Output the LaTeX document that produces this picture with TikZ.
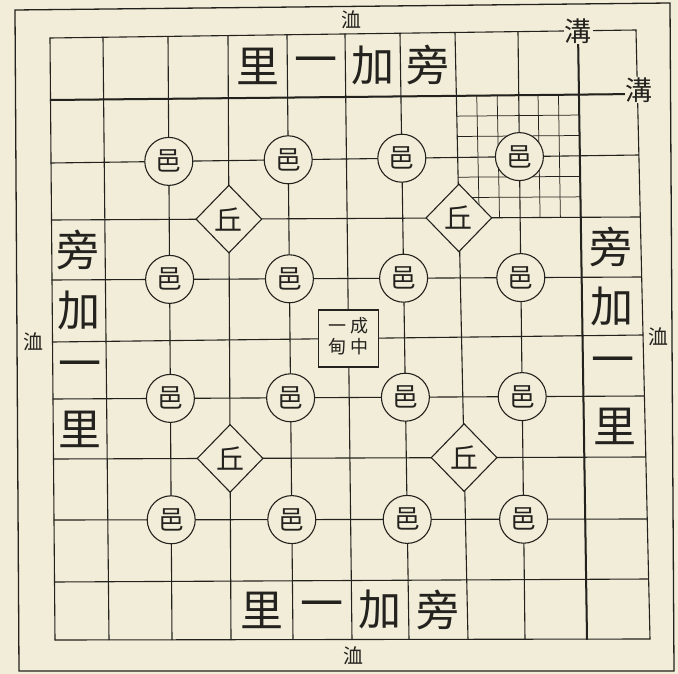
\documentclass[tikz,border=0pt]{standalone}
\usepackage{fontspec}
\newfontfamily\cjk{Noto Sans CJK TC}
\usetikzlibrary{shapes.geometric,calc}
\definecolor{paper}{RGB}{242,237,216}
\definecolor{ink}{RGB}{36,34,30}
\begin{document}
\begin{tikzpicture}[x=1pt,y=-1pt,line cap=round,
  gridline/.style={draw=ink,line width=1.1pt},
  ditchline/.style={draw=ink,line width=2pt},
  fineline/.style={draw=ink,line width=0.75pt},
  frameline/.style={draw=ink,line width=1.3pt},
  town/.style={circle,draw=ink,line width=1.1pt,fill=paper,minimum size=48pt,inner sep=0pt,text=ink,font=\cjk\fontsize{26}{26}\selectfont},
  hill/.style={diamond,draw=ink,line width=1.1pt,fill=paper,minimum width=66pt,minimum height=68pt,inner sep=0pt,text=ink,font=\cjk\fontsize{28}{28}\selectfont},
  centrebox/.style={rectangle,draw=ink,line width=1.1pt,fill=paper,minimum width=60pt,minimum height=57pt,inner sep=0pt,text=ink,font=\cjk\fontsize{18}{21}\selectfont},
  bandtext/.style={inner sep=0pt,text=ink,font=\cjk\fontsize{43}{43}\selectfont},
  ditchlabel/.style={fill=paper,inner sep=1pt,text=ink,font=\cjk\fontsize{27}{27}\selectfont},
  moatlabel/.style={inner sep=0pt,text=ink,font=\cjk\fontsize{20}{20}\selectfont}
]
\fill[paper] (0,0) rectangle (678,674);
\useasboundingbox (0,0) rectangle (678,674);

% grid coordinates (slightly skewed, as in the print)
\def\XT{{50,103,168,228,287,345,400,455,518,578,636}}
\def\XB{{55,109,172,231,293,352,409,468,525,587,650}}
\def\YL{{38,100,163,220,280,342,399,459,520,582,640}}
\def\YR{{30,94,155,217,277,335,396,457,519,579,639}}
\foreach \i in {0,...,10}{
  \foreach \j in {0,...,10}{
    \pgfmathsetmacro\gx{\XT[\i]+(\XB[\i]-\XT[\i])*\j/10}
    \pgfmathsetmacro\gy{\YL[\j]+(\YR[\j]-\YL[\j])*\i/10}
    \coordinate (g-\i-\j) at (\gx,\gy);
  }
}

% outer frame
\coordinate (f1) at (15,10);
\coordinate (f2) at (670,3);
\coordinate (f3) at (674,671);
\coordinate (f4) at (19,671);
\draw[frameline] (f1) -- (f2) -- (f3) -- (f4) -- cycle;

% main grid
\foreach \i in {0,...,10}{ \draw[gridline] (g-\i-0) -- (g-\i-10); }
\foreach \j in {0,...,10}{ \draw[gridline] (g-0-\j) -- (g-10-\j); }
% ditches
\draw[ditchline] (g-9-0) -- (g-9-10);
\draw[ditchline] (g-0-1) -- (g-10-1);

% fine grid (upper right)
\foreach \k in {1,2,4,5}{
  \draw[fineline] ($(g-7-1)!\k/6!(g-9-1)$) -- ($(g-7-3)!\k/6!(g-9-3)$);
  \draw[fineline] ($(g-7-1)!\k/6!(g-7-3)$) -- ($(g-9-1)!\k/6!(g-9-3)$);
}

% towns
\foreach \i in {2,4,6,8}{
  \foreach \j in {2,4,6,8}{
    \node[town] (town-\i-\j) at (g-\i-\j) {邑};
  }
}
% hills
\foreach \i/\j in {3/3,7/3,3/7,7/7}{
  \node[hill] (hill-\i-\j) at (g-\i-\j) {丘};
}
% centre
\node[centrebox] (centre) at (g-5-5) {\begin{tabular}{@{}c@{\hspace{4pt}}c@{}}一&成\\甸&中\end{tabular}};

% band texts
\foreach \i/\c in {3/里,4/一,5/加,6/旁}{
  \node[bandtext] (top-\i) at ($(g-\i-0)!0.5!(g-\the\numexpr\i+1\relax-1)$) {\c};
  \node[bandtext] (bot-\i) at ($(g-\i-9)!0.5!(g-\the\numexpr\i+1\relax-10)$) {\c};
}
\foreach \j/\c in {3/旁,4/加,5/一,6/里}{
  \node[bandtext] (left-\j) at ($(g-0-\j)!0.5!(g-1-\the\numexpr\j+1\relax)$) {\c};
  \node[bandtext] (right-\j) at ($(g-9-\j)!0.5!(g-10-\the\numexpr\j+1\relax)$) {\c};
}

% ditch labels
\node[ditchlabel] (ditch-top) at (g-9-0) {溝};
\node[ditchlabel,yshift=4pt,xshift=2pt] (ditch-right) at (g-10-1) {溝};

% moat labels
\node[moatlabel] (moat-top) at ($(g-5-0)+(6,-14)$) {洫};
\node[moatlabel] (moat-bot) at ($(g-5-10)+(1,16)$) {洫};
\node[moatlabel] (moat-left) at ($(g-0-5)+(-19,0)$) {洫};
\node[moatlabel] (moat-right) at ($(g-10-5)+(15,2)$) {洫};
\end{tikzpicture}
\end{document}
